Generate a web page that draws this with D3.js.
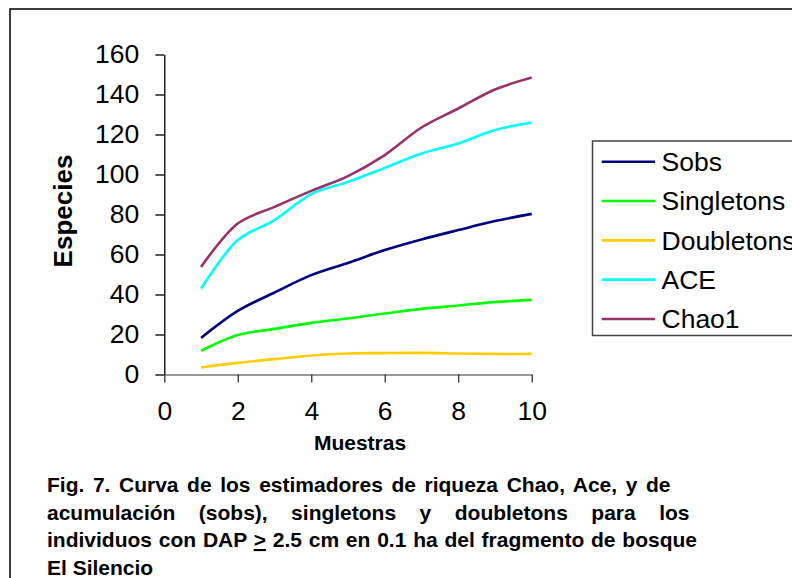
<!DOCTYPE html>
<html>
<head>
<meta charset="utf-8">
<script src="https://cdn.jsdelivr.net/npm/d3@7"></script>
<style>
  body { margin: 0; background: #fff; }
  svg { display: block; font-family: "Liberation Sans", Arial, sans-serif; }
</style>
</head>
<body>
<div id="chart"></div>
<script>
// values (samples 1..10)
const muestras   = [1, 2, 3, 4, 5, 6, 7, 8, 9, 10];
const sobs       = [18.3, 31.8, 41.0, 49.7, 55.8, 62.2, 67.5, 72.2, 76.7, 80.3];
const singletons = [11.8, 19.7, 22.8, 25.8, 28.0, 30.5, 32.8, 34.5, 36.2, 37.3];
const doubletons = [3.5, 5.8, 7.7, 9.5, 10.5, 10.7, 10.8, 10.5, 10.3, 10.3];
const ace        = [43.0, 67.2, 77.2, 90.2, 96.3, 103.3, 110.5, 115.5, 122.2, 126.0];
const chao1      = [53.8, 75.5, 83.8, 91.8, 99.2, 109.7, 123.5, 133.0, 142.5, 148.5];

const seriesNames = ["Sobs", "Singletons", "Doubletons", "ACE", "Chao1"];
const seriesValues = [sobs, singletons, doubletons, ace, chao1];
const colors = ["#000080", "#00ff00", "#ffcc00", "#00ffff", "#993366"];

const xTicks = [0, 2, 4, 6, 8, 10];
const yTicks = [0, 20, 40, 60, 80, 100, 120, 140, 160];

const caption = [
  "Fig. 7.  Curva  de  los  estimadores de riqueza  Chao, Ace, y  de",
  "acumulación (sobs), singletons y doubletons para los",
  "individuos con DAP ≥ 2.5 cm en 0.1 ha del fragmento de bosque",
  "El Silencio"
];

const W = 792, H = 578;
const svg = d3.select("#chart").append("svg")
              .attr("width", W)
              .attr("height", H);

// outer frame of the figure (right and bottom run off the picture)
svg.append("rect")
   .attr("x", 10).attr("y", 9)
   .attr("width", 900).attr("height", 700)
   .attr("fill", "none")
   .attr("stroke", "#000")
   .attr("stroke-width", 1.5);

const x = d3.scaleLinear().domain([0, 10]).range([164.3, 531.7]);
const y = d3.scaleLinear().domain([0, 160]).range([374.5, 54.5]);

const yAxis = d3.axisLeft(y).tickValues(yTicks).tickSize(9).tickSizeOuter(0).tickPadding(16);
const xAxis = d3.axisBottom(x).tickValues(xTicks).tickSize(8).tickSizeOuter(0).tickPadding(19);

const gy = svg.append("g")
              .attr("transform", `translate(${x(0)},0)`)
              .call(yAxis);
gy.selectAll("path, line").attr("stroke", "#000").attr("stroke-width", 1.3);
gy.selectAll("text")
  .attr("font-family", "Liberation Sans, Arial, sans-serif")
  .attr("font-size", 26.5)
  .attr("fill", "#000");

const gx = svg.append("g")
              .attr("transform", `translate(0,${y(0)})`)
              .call(xAxis);
gx.select("path").attr("stroke", "#777").attr("stroke-width", 1.3);
gx.selectAll("line").attr("stroke", "#333").attr("stroke-width", 1.3);
gx.selectAll("text")
  .attr("font-family", "Liberation Sans, Arial, sans-serif")
  .attr("font-size", 26.5)
  .attr("fill", "#000");

// axis titles
svg.append("text")
   .attr("transform", `translate(71.5,211) rotate(-90)`)
   .attr("text-anchor", "middle")
   .attr("font-weight", "bold")
   .attr("font-size", 26)
   .text("Especies");

svg.append("text")
   .attr("x", 360).attr("y", 450)
   .attr("text-anchor", "middle")
   .attr("font-weight", "bold")
   .attr("font-size", 21)
   .text("Muestras");

// curves
const line = d3.line()
               .x(d => x(d[0]))
               .y(d => y(d[1]))
               .curve(d3.curveCatmullRom.alpha(0.5));

svg.selectAll(".serie")
   .data(seriesValues)
   .enter()
   .append("path")
   .attr("class", "serie")
   .attr("d", vals => line(muestras.map((m, i) => [m, vals[i]])))
   .attr("fill", "none")
   .attr("stroke", (d, i) => colors[i])
   .attr("stroke-width", 2.6);

// legend
const legend = svg.append("g");
legend.append("rect")
      .attr("x", 592.5).attr("y", 141)
      .attr("width", 300).attr("height", 194.5)
      .attr("fill", "#fff")
      .attr("stroke", "#444")
      .attr("stroke-width", 1.5);
const rowY = d3.scalePoint().domain(seriesNames).range([161.7, 319]);
const items = legend.selectAll(".item")
                    .data(seriesNames)
                    .enter()
                    .append("g")
                    .attr("transform", d => `translate(0,${rowY(d)})`);
items.append("line")
     .attr("x1", 601.7).attr("x2", 655)
     .attr("stroke", (d, i) => colors[i])
     .attr("stroke-width", 2.6);
items.append("text")
     .attr("x", 661.5)
     .attr("dy", "0.35em")
     .attr("font-size", 26.5)
     .text(d => d);

// caption, justified like the original
const capX = 47, capRight = [687, 689.5, 697, null];
const capY = [492, 519.5, 547, 574.5];
caption.forEach((txt, i) => {
  const t = svg.append("text")
               .attr("x", capX).attr("y", capY[i])
               .attr("font-weight", "bold")
               .attr("font-size", 21);
  if (txt.includes("≥")) {
    const parts = txt.split("≥");
    t.append("tspan").text(parts[0]);
    t.append("tspan").attr("text-decoration", "underline").text(">");
    t.append("tspan").text(parts[1]);
  } else {
    t.text(txt);
  }
  if (capRight[i]) {
    const natural = t.node().getComputedTextLength();
    const gaps = (txt.match(/ /g) || []).length;
    const extra = (capRight[i] - capX - natural) / gaps;
    t.attr("word-spacing", extra);
  }
});
</script>
</body>
</html>
